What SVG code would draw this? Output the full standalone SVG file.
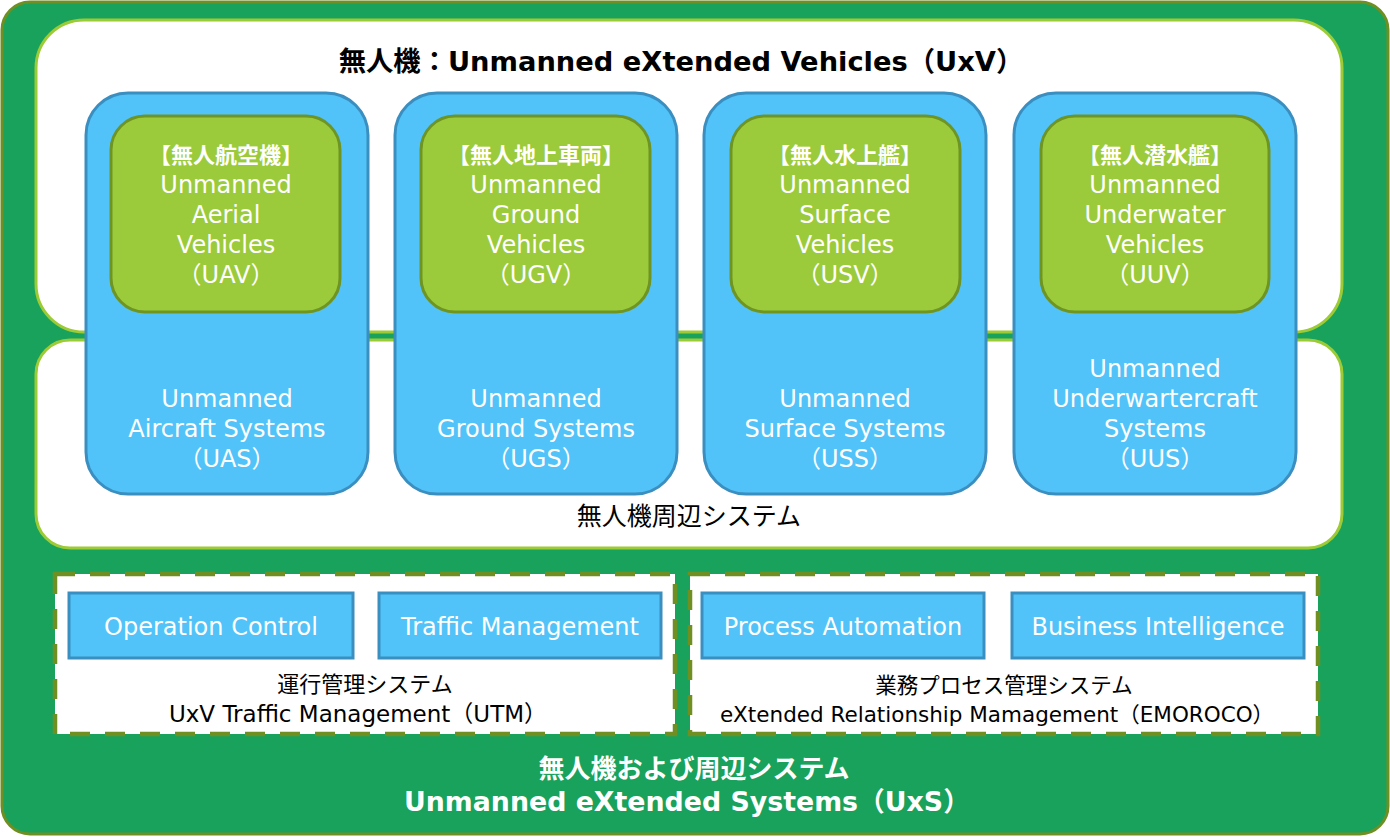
<svg xmlns="http://www.w3.org/2000/svg" width="1390" height="837" viewBox="0 0 1390 837">
<style>
text{font-family:"DejaVu Sans","Noto Sans CJK JP",sans-serif;text-anchor:middle}
.panel{fill:#ffffff;stroke:#9dcb35;stroke-width:3}
.card{fill:#51c3f8;stroke:#3b8fc0;stroke-width:3}
.veh{fill:#9bcb3a;stroke:#6e9524;stroke-width:3}
.dash{fill:#ffffff;stroke:#6f8f23;stroke-width:4.5;stroke-dasharray:20 15}
.mod{fill:#51c3f8;stroke:#3b8fc0;stroke-width:3}
.w{fill:#ffffff;font-size:24px}
.wh{fill:#ffffff;font-size:22px;font-weight:bold}
.k{fill:#000000}
.mt{fill:#ffffff;font-size:24px}
</style>
<g id="uxs">
<rect x="2" y="2" width="1386" height="832" rx="28" fill="#18a25c" stroke="#6f8f23" stroke-width="3"/>
<text x="694" y="778" style="fill:#ffffff;font-size:26px;font-weight:bold">無人機および周辺システム</text>
<text x="687" y="811" style="fill:#ffffff;font-size:26.8px;font-weight:bold">Unmanned eXtended Systems（UxS）</text>
</g>
<g id="uxv-panel">
<rect class="panel" x="36" y="20" width="1306" height="312" rx="48"/>
<text class="k" x="681" y="71" style="font-size:27.3px;font-weight:bold">無人機：Unmanned eXtended Vehicles（UxV）</text>
</g>
<g id="peripheral-panel">
<rect class="panel" x="36" y="340" width="1306" height="208" rx="34"/>
<text class="k" x="689" y="525" style="font-size:25px">無人機周辺システム</text>
</g>
<g id="uas">
<rect class="card" x="86" y="93" width="282" height="401" rx="42"/>
<text class="w" x="227" y="407">Unmanned</text>
<text class="w" x="227" y="437">Aircraft Systems</text>
<text class="w" x="227" y="467">（UAS）</text>
</g>
<g id="uav">
<rect class="veh" x="111" y="116" width="229" height="196" rx="34"/>
<text class="wh" x="226" y="163">【無人航空機】</text>
<text class="w" x="226" y="193">Unmanned</text>
<text class="w" x="226" y="223">Aerial</text>
<text class="w" x="226" y="253">Vehicles</text>
<text class="w" x="226" y="283">（UAV）</text>
</g>
<g id="ugs">
<rect class="card" x="395" y="93" width="282" height="401" rx="42"/>
<text class="w" x="536" y="407">Unmanned</text>
<text class="w" x="536" y="437">Ground Systems</text>
<text class="w" x="536" y="467">（UGS）</text>
</g>
<g id="ugv">
<rect class="veh" x="421" y="116" width="229" height="196" rx="34"/>
<text class="wh" x="536" y="163">【無人地上車両】</text>
<text class="w" x="536" y="193">Unmanned</text>
<text class="w" x="536" y="223">Ground</text>
<text class="w" x="536" y="253">Vehicles</text>
<text class="w" x="536" y="283">（UGV）</text>
</g>
<g id="uss">
<rect class="card" x="704" y="93" width="282" height="401" rx="42"/>
<text class="w" x="845" y="407">Unmanned</text>
<text class="w" x="845" y="437">Surface Systems</text>
<text class="w" x="845" y="467">（USS）</text>
</g>
<g id="usv">
<rect class="veh" x="731" y="116" width="229" height="196" rx="34"/>
<text class="wh" x="845" y="163">【無人水上艦】</text>
<text class="w" x="845" y="193">Unmanned</text>
<text class="w" x="845" y="223">Surface</text>
<text class="w" x="845" y="253">Vehicles</text>
<text class="w" x="845" y="283">（USV）</text>
</g>
<g id="uus">
<rect class="card" x="1014" y="93" width="282" height="401" rx="42"/>
<text class="w" x="1155" y="377">Unmanned</text>
<text class="w" x="1155" y="407">Underwartercraft</text>
<text class="w" x="1155" y="437">Systems</text>
<text class="w" x="1155" y="467">（UUS）</text>
</g>
<g id="uuv">
<rect class="veh" x="1041" y="116" width="228" height="196" rx="34"/>
<text class="wh" x="1155" y="163">【無人潜水艦】</text>
<text class="w" x="1155" y="193">Unmanned</text>
<text class="w" x="1155" y="223">Underwater</text>
<text class="w" x="1155" y="253">Vehicles</text>
<text class="w" x="1155" y="283">（UUV）</text>
</g>
<g id="utm">
<rect class="dash" x="55" y="574" width="620" height="160"/>
<text class="k" x="365" y="692" style="font-size:22px">運行管理システム</text>
<text class="k" x="358" y="722" style="font-size:23px">UxV Traffic Management（UTM）</text>
</g>
<g id="operation-control">
<rect class="mod" x="69" y="593" width="284" height="65"/>
<text class="mt" x="211" y="635">Operation Control</text>
</g>
<g id="traffic-management">
<rect class="mod" x="379" y="593" width="282" height="65"/>
<text class="mt" x="520" y="635">Traffic Management</text>
</g>
<g id="emoroco">
<rect class="dash" x="690" y="574" width="628" height="160"/>
<text class="k" x="1004" y="693" style="font-size:21.5px">業務プロセス管理システム</text>
<text class="k" x="997" y="722" style="font-size:21.5px">eXtended Relationship Mamagement（EMOROCO）</text>
</g>
<g id="process-automation">
<rect class="mod" x="702" y="593" width="282" height="65"/>
<text class="mt" x="843" y="635">Process Automation</text>
</g>
<g id="business-intelligence">
<rect class="mod" x="1012" y="593" width="292" height="65"/>
<text class="mt" x="1158" y="635">Business Intelligence</text>
</g>
<g id="connectors"></g>
</svg>
